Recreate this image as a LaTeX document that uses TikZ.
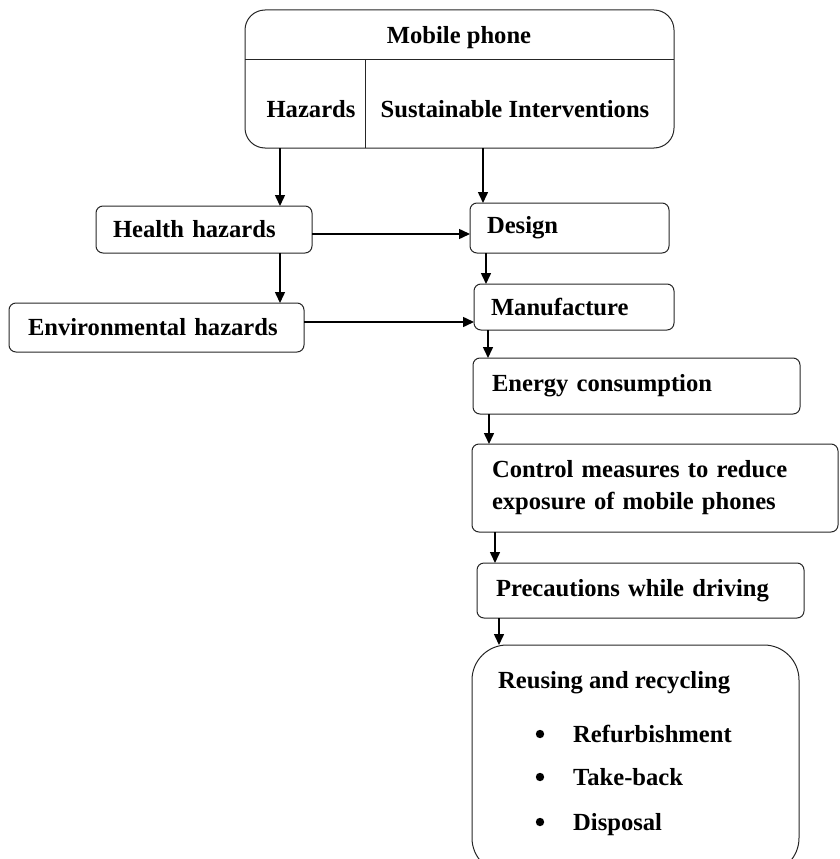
\documentclass[tikz,border=0pt]{standalone}
\usepackage{fontspec}
\setmainfont{Liberation Serif}
\usetikzlibrary{arrows.meta}
\begin{document}
\begin{tikzpicture}[x=1pt,y=-1pt,
  font=\bfseries\fontsize{24.6}{32}\selectfont,
  box/.style={draw=black!85, line width=1pt, rounded corners=7pt, anchor=north west,
    align=left, inner ysep=0pt, outer sep=0pt},
  lbl/.style={inner sep=0pt, anchor=base west},
  arr/.style={line width=1.5pt, -{Triangle[length=11pt,width=10pt]}}]
\useasboundingbox (0,0) rectangle (840,859);
\clip (0,0) rectangle (840,859);
% top box
\node[draw=black!85, line width=1pt, rounded corners=20pt, anchor=north west,
  minimum width=429pt, minimum height=138pt, inner sep=0pt, outer sep=0pt] (mp) at (245,10) {};
\coordinate (hl) at (245,60);
\coordinate (vl) at (365,60);
\draw[line width=1pt, black!85] (hl) -- (hl -| mp.east);
\draw[line width=1pt, black!85] (vl) -- (vl |- mp.south);
\node[inner sep=0pt] (tmp) at (459,38) {Mobile phone};
\node[inner sep=0pt] (thz) at (311,109) {Hazards};
\node[inner sep=0pt] (tsi) at (515,109) {Sustainable Interventions};
% left boxes
\node[box, inner xsep=17pt, text width=182pt, minimum height=47pt] (hh) at (96,206) {Health hazards};
\node[box, inner xsep=19pt, text width=257pt, minimum height=49pt] (env) at (9,303) {Environmental hazards};
% right boxes
\node[box, inner xsep=17pt, text width=165pt, minimum height=50pt] (des) at (470,203) {Design};
\node[box, inner xsep=17pt, text width=166pt, minimum height=46pt] (man) at (474,284) {Manufacture};
\node[box, inner xsep=19pt, text width=289pt, minimum height=56pt] (eng) at (473,358) {Energy consumption};
\node[box, inner xsep=20pt, text width=326pt, minimum height=88pt] (ctl) at (472,444) {Control measures to reduce\\exposure of mobile phones};
\node[box, inner xsep=19pt, text width=289pt, minimum height=55pt] (pre) at (477,563) {Precautions while driving};
\node[draw=black!85, line width=1pt, rounded corners=35pt, anchor=north west,
  minimum width=327pt, minimum height=228pt, inner sep=0pt, outer sep=0pt] (reu) at (472,645) {};
\node[lbl] (rt) at (498,688) {Reusing and recycling};
\node[lbl] (b1) at (573,742) {Refurbishment};
\node[lbl] (b2) at (573,785) {Take-back};
\node[lbl] (b3) at (573,830) {Disposal};
\fill (b1.base west) ++(-33,-8) circle (4.2pt);
\fill (b2.base west) ++(-33,-8) circle (4.2pt);
\fill (b3.base west) ++(-33,-8) circle (4.2pt);
% arrows
\coordinate (a1) at (280,148);
\coordinate (a2) at (483,148);
\draw[arr] (a1) -- (a1 |- hh.north);
\draw[arr] (a2) -- (a2 |- des.north);
\coordinate (a3) at (280,253);
\draw[arr] (a3) -- (a3 |- env.north);
\coordinate (a4) at (312,234);
\draw[arr] (a4) -- (a4 -| des.west);
\coordinate (a5) at (304,322);
\draw[arr] (a5) -- (a5 -| man.west);
\coordinate (a6) at (486,253);
\draw[arr] (a6) -- (a6 |- man.north);
\coordinate (a7) at (488,330);
\draw[arr] (a7) -- (a7 |- eng.north);
\coordinate (a8) at (489,414);
\draw[arr] (a8) -- (a8 |- ctl.north);
\coordinate (a9) at (495,532);
\draw[arr] (a9) -- (a9 |- pre.north);
\coordinate (a10) at (499,618);
\draw[arr] (a10) -- (a10 |- reu.north);
\end{tikzpicture}
\end{document}
